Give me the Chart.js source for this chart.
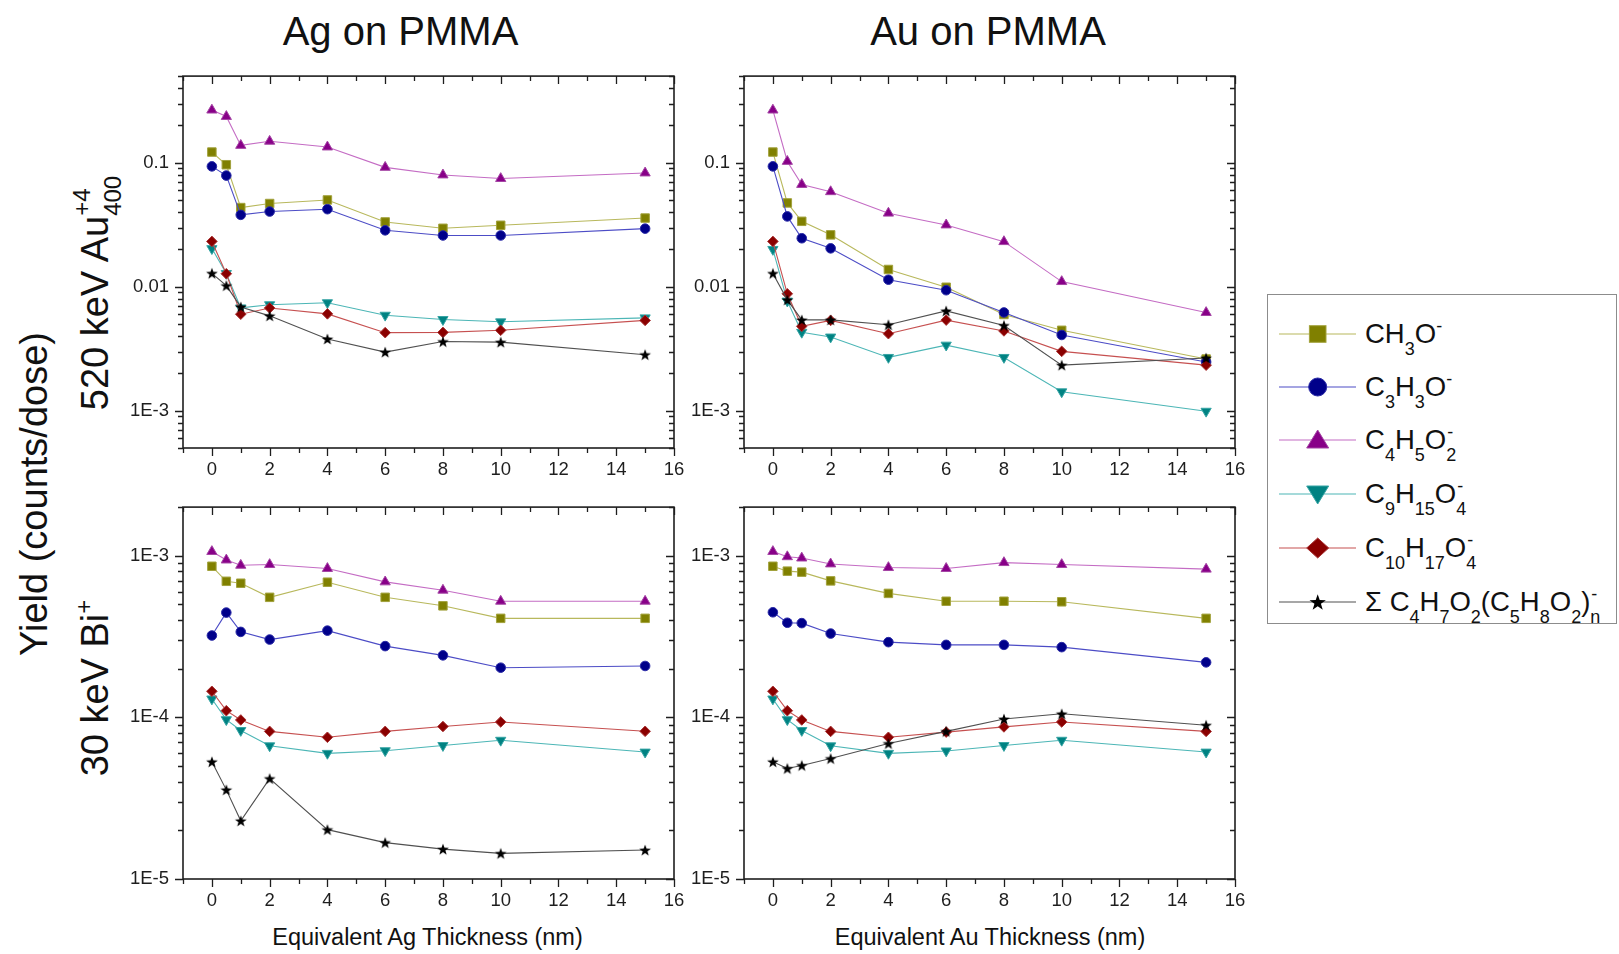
<!DOCTYPE html>
<html>
<head>
<meta charset="utf-8">
<title>Ion yields from PMMA under metal overlayers</title>
<script src="https://cdn.jsdelivr.net/npm/chart.js"></script>
<style>
  html, body { margin: 0; padding: 0; background: #fff; }
  body { width: 1619px; height: 954px; position: relative; overflow: hidden;
         font-family: "Liberation Sans", Arial, Helvetica, sans-serif; color: #111; }
  canvas { position: absolute; }
  .txt { position: absolute; white-space: nowrap; line-height: 1; }
  .rot { position: absolute; white-space: nowrap; line-height: 1;
         transform: translate(-50%, -50%) rotate(-90deg); }
  .sb { font-size: 18px; position: relative; top: 12px; }
  .sp { font-size: 18px; position: relative; top: -11px; }
  .st { display: inline-block; position: relative; font-size: 18px; line-height: 18px; }
  .st .sb { position: relative; top: 12px; }
  .st .sp { position: absolute; left: 1px; top: -11px; }
  .rot .sb2 { font-size: 24px; position: relative; top: 13px; }
  .rot .st2 { display: inline-block; position: relative; font-size: 24px; line-height: 24px; }
  .rot .st2 .sp2 { position: absolute; left: 0; top: -18px; }
  .rot .sp2b { font-size: 24px; position: relative; top: -16px; }
  #legend { position: absolute; left: 1267px; top: 294px; width: 350px; height: 330px;
            border: 1px solid #8c8c8c; box-sizing: border-box; }
  .lrow { position: absolute; left: 0; height: 40px; width: 350px; }
  .lrow svg { position: absolute; left: 3px; top: 8px; }
  .lrow .ltxt { position: absolute; left: 97px; top: 0; height: 40px; line-height: 40px;
                font-size: 27.5px; white-space: nowrap; }
</style>
</head>
<body>

<div class="txt" id="titleAg" style="font-size:40px;">Ag on PMMA</div>
<div class="txt" id="titleAu" style="font-size:40px;">Au on PMMA</div>
<div class="txt" id="xTitleAg" style="font-size:23.5px;">Equivalent Ag Thickness (nm)</div>
<div class="txt" id="xTitleAu" style="font-size:23.5px;">Equivalent Au Thickness (nm)</div>

<div class="rot" style="left:34px; top:494px; font-size:38px;">Yield (counts/dose)</div>
<div class="rot" style="left:95px; top:293px; font-size:38px;">520 keV Au<span class="st2"><span class="sb2">400</span><span class="sp2">+4</span></span></div>
<div class="rot" style="left:95px; top:688px; font-size:38px;">30 keV Bi<span class="sp2b">+</span></div>

<div id="legend"></div>

<script>
// ---- thickness of the deposited metal layer (nm) ----
const thickness = [0, 0.5, 1, 2, 4, 6, 8, 10, 15];

// ---- axis tick labels ----
const xTickValues = [0, 2, 4, 6, 8, 10, 12, 14, 16];
const yTicksAuPrimary = [0.1, 0.01, 0.001];
const yLabelsAuPrimary = ['0.1', '0.01', '1E-3'];
const yTicksBiPrimary = [1e-3, 1e-4, 1e-5];
const yLabelsBiPrimary = ['1E-3', '1E-4', '1E-5'];

// ---- 520 keV Au400(+4) primary, Ag overlayer ----
const agAu_CH3O    = [0.122, 0.0964, 0.0435, 0.0469, 0.0501, 0.0333, 0.0296, 0.0313, 0.0358];
const agAu_C3H3O   = [0.0935, 0.0788, 0.0380, 0.0404, 0.0422, 0.0285, 0.0259, 0.0259, 0.0294];
const agAu_C4H5O2  = [0.266, 0.236, 0.138, 0.149, 0.134, 0.0918, 0.0797, 0.0746, 0.0827];
const agAu_C9H15O4 = [0.0203, 0.0128, 0.00675, 0.00716, 0.00743, 0.00589, 0.00544, 0.00521, 0.00561];
const agAu_C10H17O4= [0.0232, 0.01273, 0.0060, 0.00674, 0.00604, 0.00426, 0.00428, 0.00445, 0.00535];
const agAu_Sum     = [0.01283, 0.0102, 0.00687, 0.00582, 0.00379, 0.00297, 0.00361, 0.00357, 0.00283];

// ---- 520 keV Au400(+4) primary, Au overlayer ----
const auAu_CH3O    = [0.122, 0.0474, 0.0337, 0.0262, 0.01377, 0.0099, 0.00597, 0.00445, 0.00261];
const auAu_C3H3O   = [0.0935, 0.0369, 0.0246, 0.0204, 0.01139, 0.00937, 0.0062, 0.00408, 0.00247];
const auAu_C4H5O2  = [0.266, 0.1025, 0.0668, 0.0584, 0.0392, 0.0315, 0.0231, 0.0110, 0.00619];
const auAu_C9H15O4 = [0.0200, 0.00766, 0.00429, 0.00393, 0.00269, 0.00338, 0.00269, 0.00142, 0.00099];
const auAu_C10H17O4= [0.0232, 0.00877, 0.00479, 0.00535, 0.00418, 0.00538, 0.0044, 0.00301, 0.00233];
const auAu_Sum     = [0.0128, 0.00783, 0.0054, 0.0054, 0.00493, 0.00638, 0.00487, 0.00233, 0.00266];

// ---- 30 keV Bi(+) primary, Ag overlayer ----
const agBi_CH3O    = [8.61e-4, 6.95e-4, 6.76e-4, 5.53e-4, 6.86e-4, 5.53e-4, 4.90e-4, 4.10e-4, 4.10e-4];
const agBi_C3H3O   = [3.21e-4, 4.45e-4, 3.38e-4, 3.03e-4, 3.44e-4, 2.76e-4, 2.42e-4, 2.03e-4, 2.08e-4];
const agBi_C4H5O2  = [1.062e-3, 9.41e-4, 8.73e-4, 8.82e-4, 8.34e-4, 6.89e-4, 6.12e-4, 5.23e-4, 5.23e-4];
const agBi_C9H15O4 = [1.30e-4, 9.68e-5, 8.30e-5, 6.67e-5, 5.99e-5, 6.22e-5, 6.70e-5, 7.22e-5, 6.10e-5];
const agBi_C10H17O4= [1.45e-4, 1.10e-4, 9.64e-5, 8.19e-5, 7.53e-5, 8.19e-5, 8.78e-5, 9.37e-5, 8.20e-5];
const agBi_Sum     = [5.31e-5, 3.56e-5, 2.29e-5, 4.18e-5, 2.02e-5, 1.68e-5, 1.53e-5, 1.44e-5, 1.51e-5];

// ---- 30 keV Bi(+) primary, Au overlayer ----
const auBi_CH3O    = [8.61e-4, 8.03e-4, 7.92e-4, 6.99e-4, 5.85e-4, 5.23e-4, 5.23e-4, 5.19e-4, 4.10e-4];
const auBi_C3H3O   = [4.47e-4, 3.85e-4, 3.83e-4, 3.30e-4, 2.92e-4, 2.81e-4, 2.81e-4, 2.72e-4, 2.19e-4];
const auBi_C4H5O2  = [1.062e-3, 9.86e-4, 9.68e-4, 8.90e-4, 8.45e-4, 8.34e-4, 9.07e-4, 8.82e-4, 8.26e-4];
const auBi_C9H15O4 = [1.30e-4, 9.68e-5, 8.30e-5, 6.67e-5, 5.99e-5, 6.20e-5, 6.70e-5, 7.22e-5, 6.10e-5];
const auBi_C10H17O4= [1.45e-4, 1.10e-4, 9.64e-5, 8.19e-5, 7.53e-5, 8.11e-5, 8.73e-5, 9.37e-5, 8.19e-5];
const auBi_Sum     = [5.31e-5, 4.83e-5, 5.04e-5, 5.56e-5, 6.89e-5, 8.19e-5, 9.77e-5, 1.052e-4, 8.94e-5];

const FONT = '"Liberation Sans", Arial, Helvetica, sans-serif';

// filled five-point star used as a point symbol
function makeStar(size, outer, inner, color) {
  const c = document.createElement('canvas');
  c.width = size; c.height = size;
  const g = c.getContext('2d');
  g.fillStyle = color;
  g.beginPath();
  for (let i = 0; i < 10; i++) {
    const r = i % 2 ? inner : outer;
    const a = -Math.PI / 2 + i * Math.PI / 5;
    g.lineTo(size / 2 + r * Math.cos(a), size / 2 + r * Math.sin(a) + 0.6);
  }
  g.closePath();
  g.fill();
  return c;
}

// appearance of each ion series (same order as the data arrays)
const SPECIES = [
  { name: 'CH3O-',      fill: '#808000', edge: '#a2a23c', line: '#b8b85c', style: 'rect',     r: 6.0, rot: 0 },
  { name: 'C3H3O-',     fill: '#00008a', edge: '#2a2aa6', line: '#4c4cc6', style: 'circle',   r: 4.8, rot: 0 },
  { name: 'C4H5O2-',    fill: '#880088', edge: '#a444a4', line: '#c46cc4', style: 'triangle', r: 5.9, rot: 0 },
  { name: 'C9H15O4-',   fill: '#008282', edge: '#36a4a4', line: '#4cb6b6', style: 'triangle', r: 5.9, rot: 180 },
  { name: 'C10H17O4-',  fill: '#8a0000', edge: '#a83434', line: '#c65050', style: 'rectRot',  r: 5.3, rot: 0 },
  { name: 'Sum C4H7O2(C5H8O2)n-', fill: '#000000', edge: '#000000', line: '#505050', style: makeStar(14, 6.2, 2.5, '#000'), r: 6, rot: 0 }
];

// box frame plus Origin-style major/minor tick marks on all four sides
const frameTicks = {
  id: 'frameTicks',
  afterDraw(chart) {
    const { ctx, chartArea: a, scales: { x, y } } = chart;
    ctx.save();
    ctx.strokeStyle = '#1e1e1e';
    ctx.lineWidth = 1.6;
    ctx.strokeRect(a.left, a.top, a.right - a.left, a.bottom - a.top);
    ctx.lineWidth = 1.3;
    ctx.beginPath();
    for (let v = Math.ceil(x.min); v <= x.max; v++) {
      const px = Math.round(x.getPixelForValue(v)) + 0.5;
      const len = v % 2 === 0 ? 8 : 5;
      ctx.moveTo(px, a.bottom); ctx.lineTo(px, a.bottom + len);
      ctx.moveTo(px, a.top);    ctx.lineTo(px, a.top + len);
    }
    const e0 = Math.floor(Math.log10(y.min)), e1 = Math.ceil(Math.log10(y.max));
    for (let e = e0; e <= e1; e++) {
      for (let m = 1; m <= 9; m++) {
        const v = m * Math.pow(10, e);
        if (v < y.min * 0.999 || v > y.max * 1.001) continue;
        const py = Math.round(y.getPixelForValue(v)) + 0.5;
        const len = m === 1 ? 8 : 5;
        ctx.moveTo(a.left - len, py); ctx.lineTo(a.left, py);
        ctx.moveTo(a.right - len, py); ctx.lineTo(a.right, py);
      }
    }
    ctx.stroke();
    ctx.restore();
  }
};

function panel(area, series, yMin, yMax, yTicks, yLabels) {
  const L = 75, T = 20, R = 30, B = 45;
  const cv = document.createElement('canvas');
  cv.width = L + area.w + R;
  cv.height = T + area.h + B;
  cv.style.left = (area.x - L) + 'px';
  cv.style.top = (area.y - T) + 'px';
  document.body.appendChild(cv);

  const datasets = series.map((vals, i) => {
    const s = SPECIES[i];
    return {
      label: s.name,
      data: thickness.map((t, j) => ({ x: t, y: vals[j] })),
      borderColor: s.line,
      borderWidth: 1.1,
      tension: 0,
      pointStyle: s.style,
      pointRadius: s.r,
      pointRotation: s.rot,
      pointBackgroundColor: s.fill,
      pointBorderColor: s.edge,
      pointBorderWidth: 1,
      order: series.length - i
    };
  });

  return new Chart(cv, {
    type: 'line',
    data: { datasets },
    options: {
      responsive: false,
      animation: false,
      events: [],
      layout: { padding: { top: T, right: R, left: 0, bottom: 0 } },
      plugins: { legend: { display: false }, tooltip: { enabled: false }, title: { display: false } },
      scales: {
        x: {
          type: 'linear', min: -1, max: 16,
          grid: { display: false, drawTicks: false },
          border: { display: false },
          afterBuildTicks: s => { s.ticks = xTickValues.map(v => ({ value: v })); },
          afterFit: s => { s.height = B; },
          ticks: { autoSkip: false, maxRotation: 0, padding: 11, color: '#1e1e1e',
                   font: { family: FONT, size: 18.5 }, callback: v => String(v) }
        },
        y: {
          type: 'logarithmic', min: yMin, max: yMax,
          grid: { display: false, drawTicks: false },
          border: { display: false },
          afterBuildTicks: s => { s.ticks = yTicks.map(v => ({ value: v })); },
          afterFit: s => { s.width = L; },
          ticks: { autoSkip: false, padding: 14, color: '#1e1e1e',
                   font: { family: FONT, size: 18.5 }, callback: (v, idx) => yLabels[idx] }
        }
      }
    },
    plugins: [frameTicks]
  });
}

const W = 491, H = 377;
panel({ x: 182.5, y: 71,  w: W, h: H },
      [agAu_CH3O, agAu_C3H3O, agAu_C4H5O2, agAu_C9H15O4, agAu_C10H17O4, agAu_Sum],
      5e-4, 0.5, yTicksAuPrimary, yLabelsAuPrimary);
panel({ x: 744, y: 71,  w: W, h: H },
      [auAu_CH3O, auAu_C3H3O, auAu_C4H5O2, auAu_C9H15O4, auAu_C10H17O4, auAu_Sum],
      5e-4, 0.5, yTicksAuPrimary, yLabelsAuPrimary);
panel({ x: 182.5, y: 502, w: W, h: H },
      [agBi_CH3O, agBi_C3H3O, agBi_C4H5O2, agBi_C9H15O4, agBi_C10H17O4, agBi_Sum],
      1e-5, 2e-3, yTicksBiPrimary, yLabelsBiPrimary);
panel({ x: 744, y: 502, w: W, h: H },
      [auBi_CH3O, auBi_C3H3O, auBi_C4H5O2, auBi_C9H15O4, auBi_C10H17O4, auBi_Sum],
      1e-5, 2e-3, yTicksBiPrimary, yLabelsBiPrimary);

// place a single-line label by its centre x and baseline y
function placeByBaseline(id, cx, baseline) {
  const el = document.getElementById(id);
  const size = parseFloat(el.style.fontSize);
  el.style.left = cx + 'px';
  el.style.top = (baseline - 0.8465 * size) + 'px';
  el.style.transform = 'translateX(-50%)';
}
placeByBaseline('titleAg', 400.5, 45);
placeByBaseline('titleAu', 988, 45);
placeByBaseline('xTitleAg', 427.5, 945.5);
placeByBaseline('xTitleAu', 990, 945.5);

// ---- legend ----
const sb = t => `<span class="sb">${t}</span>`;
const sp = t => `<span class="sp">${t}</span>`;
const st = (lo, hi) => `<span class="st"><span class="sb">${lo}</span><span class="sp">${hi}</span></span>`;
const legendLabels = [
  `CH${sb('3')}O${sp('-')}`,
  `C${sb('3')}H${sb('3')}O${sp('-')}`,
  `C${sb('4')}H${sb('5')}O${st('2', '-')}`,
  `C${sb('9')}H${sb('15')}O${st('4', '-')}`,
  `C${sb('10')}H${sb('17')}O${st('4', '-')}`,
  `&Sigma; C${sb('4')}H${sb('7')}O${sb('2')}(C${sb('5')}H${sb('8')}O${sb('2')})${st('n', '-')}`
];
const legendRowCentres = [38.7, 92, 145.3, 199.3, 252.7, 306.7];

function symbolSvg(i) {
  const s = SPECIES[i];
  const cx = 46.7, cy = 12;
  let shape = '';
  if (i === 0) shape = `<rect x="${cx - 8.3}" y="${cy - 8.3}" width="16.6" height="16.6" fill="${s.fill}" stroke="${s.edge}" stroke-width="1"/>`;
  if (i === 1) shape = `<circle cx="${cx}" cy="${cy}" r="9" fill="${s.fill}" stroke="${s.edge}" stroke-width="1"/>`;
  if (i === 2) shape = `<polygon points="${cx},${cy - 10} ${cx + 11},${cy + 8} ${cx - 11},${cy + 8}" fill="${s.fill}" stroke="${s.edge}" stroke-width="1"/>`;
  if (i === 3) shape = `<polygon points="${cx},${cy + 10} ${cx + 11},${cy - 8} ${cx - 11},${cy - 8}" fill="${s.fill}" stroke="${s.edge}" stroke-width="1"/>`;
  if (i === 4) shape = `<polygon points="${cx},${cy - 10} ${cx + 11},${cy} ${cx},${cy + 10} ${cx - 11},${cy}" fill="${s.fill}" stroke="${s.edge}" stroke-width="1"/>`;
  if (i === 5) {
    const pts = [];
    for (let k = 0; k < 10; k++) {
      const r = k % 2 ? 3.4 : 8.6;
      const a = -Math.PI / 2 + k * Math.PI / 5;
      pts.push((cx + r * Math.cos(a)).toFixed(2) + ',' + (cy + 0.8 + r * Math.sin(a)).toFixed(2));
    }
    shape = `<polygon points="${pts.join(' ')}" fill="#000"/>`;
  }
  return `<svg width="92" height="24" viewBox="0 0 92 24"><line x1="8" y1="12" x2="85" y2="12" stroke="${s.line}" stroke-width="1.2"/>${shape}</svg>`;
}

const legend = document.getElementById('legend');
legendLabels.forEach((html, i) => {
  const row = document.createElement('div');
  row.className = 'lrow';
  row.style.top = (legendRowCentres[i] - 20) + 'px';
  row.innerHTML = symbolSvg(i) + `<span class="ltxt">${html}</span>`;
  legend.appendChild(row);
});
</script>
</body>
</html>
